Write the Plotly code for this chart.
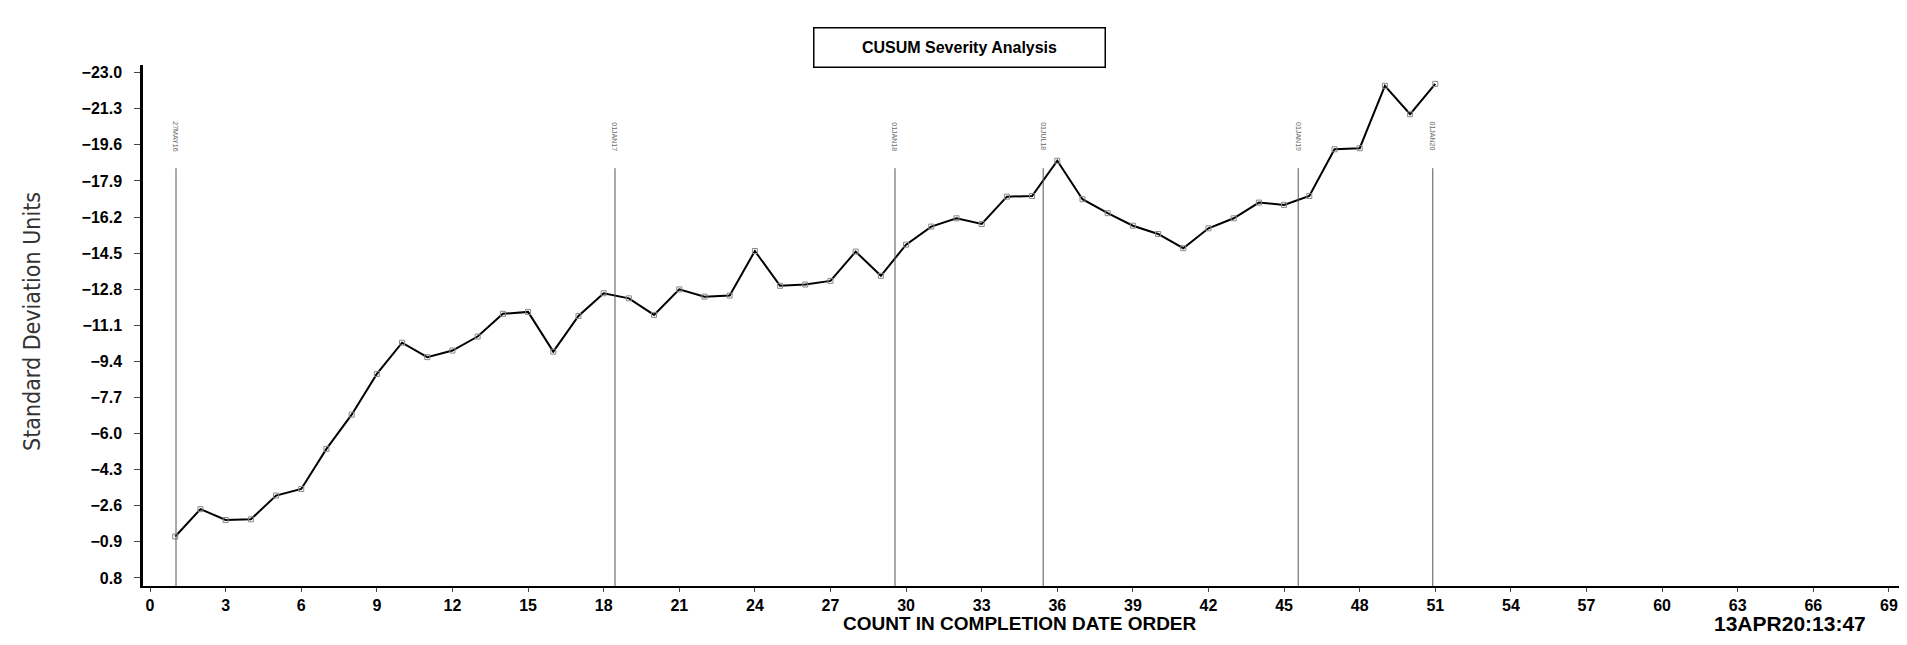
import plotly.graph_objects as go

# ---- data ----
counts = list(range(1, 52))
cusum = [-1.15, -2.44, -1.93, -1.96, -3.08, -3.39, -5.28, -6.89, -8.81, -10.28,
         -9.60, -9.91, -10.57, -11.64, -11.73, -9.86, -11.54, -12.61, -12.37, -11.59,
         -12.79, -12.45, -12.50, -14.60, -12.96, -13.02, -13.19, -14.57, -13.43, -14.90,
         -15.75, -16.14, -15.87, -17.16, -17.19, -18.85, -17.04, -16.38, -15.79, -15.40,
         -14.73, -15.67, -16.14, -16.88, -16.77, -17.19, -19.39, -19.44, -22.38, -21.04,
         -22.47]
ref_x = [1.03, 18.45, 29.56, 35.44, 45.56, 50.9]
ref_labels = ["27MAY16", "01JAN17", "01JAN18", "01JUL18", "01JAN19", "01JAN20"]
y_ticks = [0.8, -0.9, -2.6, -4.3, -6.0, -7.7, -9.4, -11.1, -12.8, -14.5, -16.2,
           -17.9, -19.6, -21.3, -23.0]
x_ticks = list(range(0, 70, 3))

title_text = "CUSUM Severity Analysis"
x_title = "COUNT IN COMPLETION DATE ORDER"
y_title = "Standard Deviation Units"
stamp = "13APR20:13:47"

Y_BOTTOM, Y_TOP = 1.18, -23.36
X_LEFT, X_RIGHT = -0.28, 69.4
REF_TOP = -18.5
REF_LABEL_Y = -20.0

fig = go.Figure()

fig.add_trace(go.Scatter(
    x=counts, y=cusum, mode="lines+markers",
    line=dict(color="black", width=2),
    marker=dict(symbol="square-open", size=5, color="#888888", line=dict(width=1)),
    showlegend=False, hoverinfo="x+y"))

shapes = []
annotations = []
for rx, lab in zip(ref_x, ref_labels):
    shapes.append(dict(type="line", xref="x", yref="y", x0=rx, x1=rx,
                       y0=Y_BOTTOM, y1=REF_TOP, line=dict(color="#555555", width=1)))
    annotations.append(dict(x=rx, y=REF_LABEL_Y, xref="x", yref="y", text=lab,
                            showarrow=False, textangle=90,
                            font=dict(family="Liberation Sans, Arial, sans-serif",
                                      size=7, color="#666666")))

# title box
annotations.append(dict(x=959, y=27, xref="paper", yref="paper", text=title_text,
                        showarrow=False, font=dict(family="Liberation Sans", size=16,
                                                   color="black", weight="bold"),
                        bordercolor="black", borderwidth=1.5, borderpad=2,
                        width=286, height=34, bgcolor="white"))
annotations.append(dict(x=17, y=322, xref="paper", yref="paper", text=y_title,
                        showarrow=False, textangle=-90,
                        font=dict(family="Liberation Sans Narrow, DejaVu Sans Condensed, Liberation Sans",
                                  size=23, color="#333333")))
annotations.append(dict(x=1020, y=636, xref="paper", yref="paper", text=x_title,
                        showarrow=False,
                        font=dict(family="Liberation Sans", size=19, color="black",
                                  weight="bold")))
annotations.append(dict(x=1712, y=637, xref="paper", yref="paper", text=stamp,
                        showarrow=False, xanchor="left",
                        font=dict(family="Liberation Sans", size=21, color="black",
                                  weight="bold")))

W, H = 1907, 645
L, R, T, B = 143, 8, 65, 59
pw, ph = W - L - R, H - T - B
for a in annotations:
    if a.get("xref") == "paper":
        a["x"] = (a["x"] - L) / pw
        a["y"] = 1 - (a["y"] - T) / ph

fig.update_layout(
    width=W, height=H,
    margin=dict(l=L, r=R, t=T, b=B),
    plot_bgcolor="white", paper_bgcolor="white",
    shapes=shapes, annotations=annotations,
    xaxis=dict(range=[X_LEFT, X_RIGHT], tickvals=x_ticks, ticktext=[str(v) for v in x_ticks],
               showgrid=False, zeroline=False, showline=True, linecolor="black",
               linewidth=2, ticks="outside", ticklen=4, tickcolor="#444444",
               tickfont=dict(family="Liberation Sans", size=16, color="black",
                             weight="bold")),
    yaxis=dict(range=[Y_BOTTOM, Y_TOP], tickvals=y_ticks,
               ticktext=[f"{v:.1f}".replace("-", "\u2212") for v in y_ticks],
               showgrid=False, zeroline=False, showline=True, linecolor="black",
               linewidth=2.5, ticks="outside", ticklen=6, tickcolor="#444444",
               ticklabelstandoff=9,
               tickfont=dict(family="Liberation Sans", size=16, color="black",
                             weight="bold")),
)

fig.write_html("out.html", config={"displayModeBar": False},
               post_script="document.body.style.margin='0';document.body.style.overflow='hidden';")
